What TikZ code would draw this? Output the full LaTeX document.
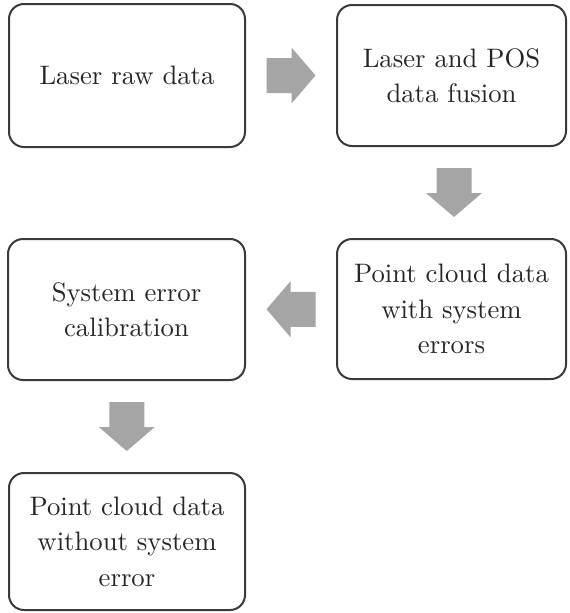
\documentclass[tikz,border=0pt]{standalone}
\usepackage{fontspec}
\newfontfamily\lmten{lmroman10-regular.otf}
\usetikzlibrary{calc}
\definecolor{boxline}{HTML}{3A3A3A}
\definecolor{txt}{HTML}{262626}
\definecolor{arrowgray}{HTML}{A5A5A5}
\tikzset{
  stepbox/.style={draw=boxline, line width=2pt, rounded corners=15pt, fill=white,
    inner sep=0pt, align=center, text=txt,
    font=\lmten\fontsize{26.7pt}{35.5pt}\selectfont},
  blockarrow/.pic={
    \fill[arrowgray] (-24.5,-17.5) -- (0.5,-17.5) -- (0.5,-28) -- (24.5,0)
      -- (0.5,28) -- (0.5,17.5) -- (-24.5,17.5) -- cycle;
  }
}
\begin{document}
\begin{tikzpicture}[x=1pt,y=-1pt]
\useasboundingbox (0,0) rectangle (570,613);
\node[stepbox, minimum width=236pt, minimum height=143pt] (b1) at (127,75.5) {Laser raw data};
\node[stepbox, minimum width=229pt, minimum height=141pt] (b2) at (451.5,75.5) {Laser and POS\\data fusion};
\node[stepbox, minimum width=229pt, minimum height=140pt] (b3) at (451.5,309) {Point cloud data\\with system\\errors};
\node[stepbox, minimum width=237pt, minimum height=141pt] (b4) at (126.5,309.5) {System error\\calibration};
\node[stepbox, minimum width=236pt, minimum height=137pt] (b5) at (127,541.5) {Point cloud data\\without system\\error};
\pic at ($(b1.east)!0.5!(b2.west)$) {blockarrow};
\pic[rotate=-90] at ($(b2.south)!0.5!(b3.north)+(2.5,0)$) {blockarrow};
\pic[rotate=180] at ($(b3.west)!0.5!(b4.east)$) {blockarrow};
\pic[rotate=-90] at ($(b4.south)!0.5!(b5.north)$) {blockarrow};
\end{tikzpicture}
\end{document}
